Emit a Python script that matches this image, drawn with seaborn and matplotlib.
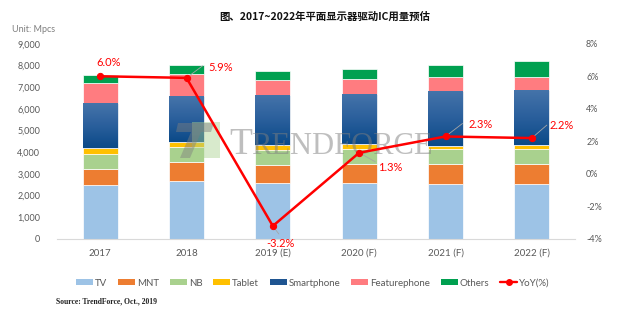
import numpy as np
import pandas as pd
import matplotlib
matplotlib.use("Agg")
import matplotlib.pyplot as plt
import matplotlib.patches as mpatches
import matplotlib.lines as mlines
from matplotlib.colors import LinearSegmentedColormap
from matplotlib.ticker import FuncFormatter, MultipleLocator
import seaborn as sns

# ---- data (Mpcs) ----
years = ["2017", "2018", "2019 (E)", "2020 (F)", "2021 (F)", "2022 (F)"]
tv = [2470, 2690, 2570, 2580, 2535, 2535]
mnt = [770, 875, 860, 875, 920, 920]
nb = [680, 660, 675, 705, 690, 690]
tablet = [260, 260, 215, 200, 140, 170]
smartphone = [2070, 2105, 2305, 2335, 2550, 2565]
featurephone = [920, 1030, 705, 690, 630, 585]
others = [380, 415, 430, 445, 565, 750]
yoy = [6.0, 5.9, -3.2, 1.3, 2.3, 2.2]

series_names = ["TV", "MNT", "NB", "Tablet", "Smartphone", "Featurephone", "Others"]
series_values = [tv, mnt, nb, tablet, smartphone, featurephone, others]
colors = ["#9DC3E6", "#ED7D31", "#A9D18E", "#FFC000", "#1F5591", "#FF7C80", "#00A050"]

sns.set_theme(style="white")
plt.rcParams["font.family"] = ["Lato", "Noto Sans CJK SC", "DejaVu Sans"]

W, H = 628, 326
fig = plt.figure(figsize=(W / 100, H / 100), dpi=100)
fig.patch.set_facecolor("white")

# plot area in pixels: x 57..575, y 43.7..239
L, R, T, B = 57, 575, 43.7, 239
ax = fig.add_axes([L / W, 1 - B / H, (R - L) / W, (B - T) / H])
ax2 = ax.twinx()

df = pd.DataFrame({"year": years})
for name, vals in zip(series_names, series_values):
    df[name] = vals

bar_width = 0.405
bottom = np.zeros(len(years))
smart_patches = []
for name, col in zip(series_names, colors):
    n_before = len(ax.patches)
    sns.barplot(data=df, x="year", y=name, bottom=bottom, color=col,
                width=bar_width, edgecolor="white", linewidth=0.5,
                saturation=1, ax=ax, zorder=2)
    if name == "Smartphone":
        smart_patches = ax.patches[n_before:]
    bottom = bottom + df[name].to_numpy()

# vertical shading on the smartphone segments
grad = LinearSegmentedColormap.from_list("smart", ["#0B4A88", "#2A5F9C", "#4674AA"])
gvals = np.linspace(0, 1, 100).reshape(-1, 1)
for p in smart_patches:
    x0, y0 = p.get_x(), p.get_y()
    w, h = p.get_width(), p.get_height()
    im = ax.imshow(gvals, cmap=grad, aspect="auto", origin="lower",
                   extent=[x0, x0 + w, y0, y0 + h], zorder=2.5)
    im.set_clip_path(p)

ax.set_xlim(-0.5, len(years) - 0.5)
ax.set_ylim(0, 9000)
ax.set_xlabel("")
ax.set_ylabel("")
ax.yaxis.set_major_locator(MultipleLocator(1000))
ax.yaxis.set_major_formatter(FuncFormatter(lambda v, p: f"{int(v):,}"))
for s in ["top", "left", "right"]:
    ax.spines[s].set_visible(False)
ax.spines["bottom"].set_color("#D9D9D9")
ax.spines["bottom"].set_linewidth(0.8)
ax.tick_params(axis="y", length=0, pad=12, labelsize=6.5, colors="#595959")
ax.tick_params(axis="x", length=0, pad=7, labelsize=7, colors="#595959")

# YoY line on the secondary axis
x_pos = np.arange(len(years))
sns.lineplot(x=x_pos, y=yoy, ax=ax2, color="#FF0000", linewidth=1.8,
             marker="o", markersize=4.5, markeredgecolor="#FF0000", zorder=6)
ax2.set_ylim(-4, 8)
ax2.yaxis.set_major_locator(MultipleLocator(2))
ax2.yaxis.set_major_formatter(FuncFormatter(lambda v, p: f"{int(round(v))}%"))
for s in ["top", "left", "right", "bottom"]:
    ax2.spines[s].set_visible(False)
ax2.tick_params(axis="y", length=0, pad=8, labelsize=6.5, colors="#595959")
ax2.set_ylabel("")

# value labels: (dx, dy) text offset in pixels, leader end offset, alignment
label_specs = [
    ((8, 14), None, "center"),
    ((22, 10), (16, 12), "left"),
    ((8, -18), (6, -8), "center"),
    ((19, -15), (16, -9), "left"),
    ((23, 12), (17, 13), "left"),
    ((18, 13), (15, 13), "left"),
]
for i, (v, (txt_off, lead, ha)) in enumerate(zip(yoy, label_specs)):
    ax2.annotate(f"{v:.1f}%", xy=(i, v), xytext=txt_off, textcoords="offset pixels",
                 ha=ha, va="center", fontsize=8, color="#FF0000", zorder=7)
    if lead is not None:
        ax2.annotate("", xy=(i, v), xytext=lead, textcoords="offset pixels",
                     arrowprops=dict(arrowstyle="-", color="#A6A6A6", lw=0.6,
                                     shrinkA=0, shrinkB=0), zorder=5)

# watermark
def fx(px):
    return px / W

def fy(py):
    return 1 - py / H

ax.add_patch(mpatches.Rectangle((fx(192), fy(158)), fx(220) - fx(192), fy(122) - fy(158),
                                transform=fig.transFigure, facecolor="#A9D18E",
                                alpha=0.45, edgecolor="none", zorder=4, clip_on=False))
seven = [(178, 123), (214, 123), (211, 132), (201, 132), (190, 158), (180, 158),
         (191, 132), (176, 132)]
ax.add_patch(mpatches.Polygon([(fx(a), fy(b)) for a, b in seven], closed=True,
                              transform=fig.transFigure, facecolor="#7F7F7F",
                              alpha=0.45, edgecolor="none", zorder=4, clip_on=False))
ax.text(fx(229), fy(154), "T", transform=fig.transFigure, fontsize=27,
        family="Liberation Serif", color="#7F7F7F", alpha=0.5, ha="left",
        va="baseline", zorder=4)
ax.text(fx(251), fy(154), "RENDFORCE", transform=fig.transFigure, fontsize=22,
        family="Liberation Serif", color="#7F7F7F", alpha=0.5, ha="left",
        va="baseline", zorder=4)

# titles and notes
fig.text(fx(325), fy(17), "图、2017~2022年平面显示器驱动IC用量预估", ha="center",
         va="center", fontsize=7.5, fontweight="bold",
         family=["Noto Sans CJK SC", "DejaVu Sans"], color="#111111")
fig.text(fx(12), fy(30), "Unit: Mpcs", ha="left", va="center", fontsize=6.5,
         color="#7F7F7F")
fig.text(fx(56), fy(301), "Source: TrendForce, Oct., 2019", ha="left", va="center",
         fontsize=5.5, fontweight="bold", family="Liberation Serif", color="#222222")

# legend
handles = [mpatches.Patch(facecolor=c, edgecolor="none", label=n)
           for n, c in zip(series_names, colors)]
handles.append(mlines.Line2D([], [], color="#FF0000", lw=1.7, marker="o",
                             markersize=4, label="YoY(%)"))
leg = fig.legend(handles=handles, loc="center", bbox_to_anchor=(fx(313), fy(283)),
                 ncol=8, frameon=False, fontsize=7, handlelength=1.75,
                 handleheight=0.6, handletextpad=0.2, columnspacing=1.1,
                 borderaxespad=0)
for t in leg.get_texts():
    t.set_color("#595959")

fig.savefig("out.png", dpi=100, facecolor="white")
